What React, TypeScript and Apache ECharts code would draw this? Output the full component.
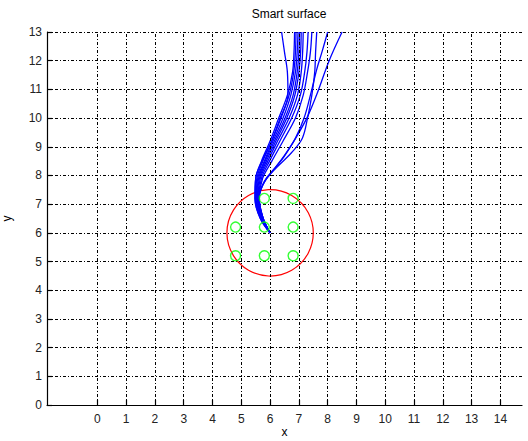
import React, { useEffect, useRef } from "react";
import * as echarts from "echarts";

const titleText = "Smart surface";
const xTicks = [0, 1, 2, 3, 4, 5, 6, 7, 8, 9, 10, 11, 12, 13, 14];
const xMin = -1.75;
const xMax = 14.75;
const yMin = 0;
const yMax = 13;

const circleCenter = [6, 6];
const circleRadius = 1.5;

const sensors = [
  [4.8, 6.2], [4.8, 5.2],
  [5.8, 7.2], [5.8, 6.2], [5.8, 5.2],
  [6.8, 7.2], [6.8, 6.2], [6.8, 5.2],
];

const trajA = [[6.0, 6.0], [5.66, 6.5], [5.48, 7.2], [5.5, 7.9], [5.72, 8.5], [6.05, 9.2], [6.35, 10.0], [6.62, 10.8], [6.6, 11.6], [6.5, 12.3], [6.4, 13.0]];
const trajB1 = [[6.0, 6.0], [5.66, 6.5], [5.47, 7.2], [5.5, 7.9], [5.7, 8.5], [6.0, 9.2], [6.3, 10.0], [6.6, 10.8], [6.78, 11.6], [6.83, 12.3], [6.85, 13.0]];
const trajB2 = [[6.0, 6.0], [5.68, 6.5], [5.5, 7.2], [5.54, 7.9], [5.75, 8.5], [6.06, 9.2], [6.38, 10.0], [6.66, 10.8], [6.82, 11.6], [6.88, 12.3], [6.9, 13.0]];
const trajB3 = [[6.0, 6.0], [5.69, 6.5], [5.52, 7.2], [5.57, 7.9], [5.8, 8.5], [6.1, 9.2], [6.45, 10.0], [6.72, 10.8], [6.88, 11.6], [6.94, 12.3], [6.97, 13.0]];
const trajB4 = [[6.0, 6.0], [5.7, 6.5], [5.54, 7.2], [5.6, 7.9], [5.83, 8.5], [6.15, 9.2], [6.52, 10.0], [6.8, 10.8], [6.94, 11.6], [7.0, 12.3], [7.02, 13.0]];
const trajB5 = [[6.0, 6.0], [5.72, 6.5], [5.56, 7.2], [5.63, 7.9], [5.87, 8.5], [6.2, 9.2], [6.58, 10.0], [6.86, 10.8], [7.0, 11.6], [7.06, 12.3], [7.08, 13.0]];
const trajB6 = [[6.0, 6.0], [5.73, 6.5], [5.58, 7.2], [5.66, 7.9], [5.92, 8.5], [6.26, 9.2], [6.66, 10.0], [6.95, 10.8], [7.08, 11.6], [7.13, 12.3], [7.15, 13.0]];
const trajC = [[6.0, 6.0], [5.74, 6.5], [5.6, 7.2], [5.7, 7.9], [5.98, 8.5], [6.34, 9.2], [6.75, 10.0], [7.05, 10.8], [7.2, 11.6], [7.28, 12.3], [7.32, 13.0]];
const trajD = [[6.0, 6.0], [5.76, 6.5], [5.62, 7.2], [5.74, 7.9], [6.06, 8.5], [6.45, 9.2], [6.88, 10.0], [7.15, 10.8], [7.3, 11.6], [7.4, 12.3], [7.45, 13.0]];
const trajR = [[6.0, 6.0], [5.76, 6.5], [5.62, 7.2], [5.82, 7.8], [6.25, 8.3], [6.75, 8.8], [7.12, 9.3], [7.3, 10.0], [7.45, 10.8], [7.55, 11.6], [7.58, 12.3], [7.62, 13.0]];
const trajQ = [[6.0, 6.0], [5.75, 6.5], [5.6, 7.2], [5.76, 7.7], [6.12, 8.2], [6.5, 8.7], [6.88, 9.3], [7.18, 10.0], [7.4, 10.8], [7.62, 11.7], [7.8, 12.3], [8.0, 13.0]];
const trajP = [[6.0, 6.0], [5.76, 6.5], [5.62, 7.2], [5.8, 7.8], [6.12, 8.2], [6.48, 8.65], [6.92, 9.35], [7.3, 10.05], [7.65, 10.9], [8.05, 12.0], [8.5, 13.0]];

const trajectories = [trajA, trajB1, trajB2, trajB3, trajB4, trajB5, trajB6, trajC, trajD, trajR, trajQ, trajP];

const FONT = "'Liberation Sans', Arial, Helvetica, sans-serif";
const gridDash = [3, 2, 1, 2];

export default function App() {
  const ref = useRef<HTMLDivElement>(null);

  useEffect(() => {
    if (!ref.current) return;
    const chart = echarts.init(ref.current, null, { renderer: "svg" });

    const lineSeries = trajectories.map((t) => ({
      type: "line",
      data: t,
      smooth: 0.35,
      showSymbol: false,
      symbol: "none",
      silent: true,
      z: 3,
      lineStyle: { color: "#0000ff", width: 1.3 },
    }));

    const option: any = {
      animation: false,
      backgroundColor: "#ffffff",
      title: {
        text: titleText,
        left: 284,
        top: 3,
        textAlign: "center",
        textStyle: { fontFamily: FONT, fontSize: 12, fontWeight: "normal", color: "#000" },
      },
      grid: { left: 47, right: 6, top: 32, bottom: 36, containLabel: false, outerBoundsMode: "none" },
      xAxis: {
        type: "value",
        min: xMin,
        max: xMax,
        name: "x",
        nameLocation: "middle",
        nameGap: 21,
        nameMoveOverlap: false,
        nameTextStyle: { fontFamily: FONT, fontSize: 12, color: "#000" },
        axisLine: { show: true, onZero: false, lineStyle: { color: "#000", width: 1.2 } },
        axisTick: { show: true, inside: true, length: 5, customValues: xTicks, lineStyle: { color: "#000", width: 1.2 } },
        axisLabel: { customValues: xTicks, fontFamily: FONT, fontSize: 12, color: "#222", margin: 8 },
        splitLine: { show: false },
      },
      yAxis: {
        type: "value",
        min: yMin,
        max: yMax,
        interval: 1,
        name: "y",
        nameLocation: "middle",
        nameGap: 34,
        nameMoveOverlap: false,
        nameRotate: 90,
        nameTextStyle: { fontFamily: FONT, fontSize: 12, color: "#000" },
        axisLine: { show: true, onZero: false, lineStyle: { color: "#000", width: 1.2 } },
        axisTick: { show: true, inside: true, length: 5, lineStyle: { color: "#000", width: 1.2 } },
        axisLabel: { fontFamily: FONT, fontSize: 12, color: "#222", margin: 5 },
        splitLine: { show: true, lineStyle: { color: "#000", width: 1, type: gridDash } },
      },
      series: [
        {
          type: "line",
          data: [],
          silent: true,
          z: 1,
          markLine: {
            silent: true,
            symbol: ["none", "none"],
            label: { show: false },
            lineStyle: { color: "#000", width: 1, type: gridDash },
            data: xTicks.map((v) => ({ xAxis: v })),
          },
        },
        {
          type: "custom",
          silent: true,
          z: 2,
          data: [[circleCenter[0], circleCenter[1], circleRadius]],
          renderItem: (params: any, api: any) => {
            const c = api.coord([api.value(0), api.value(1)]);
            const r = api.size([api.value(2), 0])[0];
            return {
              type: "circle",
              shape: { cx: c[0], cy: c[1], r },
              style: { fill: "none", stroke: "#ff0000", lineWidth: 1.2 },
            };
          },
        },
        ...lineSeries,
        {
          type: "scatter",
          data: sensors,
          symbol: "circle",
          symbolSize: 10,
          silent: true,
          z: 4,
          itemStyle: { color: "rgba(0,0,0,0)", borderColor: "#00ff00", borderWidth: 1.4 },
        },
      ],
    };

    chart.setOption(option);
    return () => chart.dispose();
  }, []);

  return (
    <div
      ref={ref}
      style={{ position: "absolute", left: 0, top: 0, width: 528, height: 441, background: "#fff" }}
    />
  );
}
